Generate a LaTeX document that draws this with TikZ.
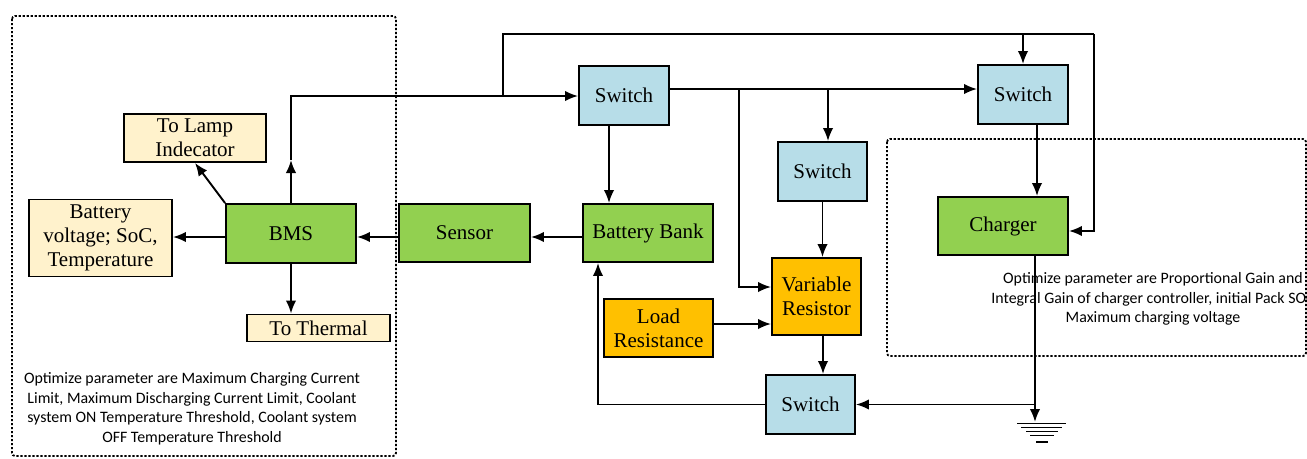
\documentclass[tikz,border=0pt]{standalone}
\usepackage{fontspec}
\setmainfont{Liberation Serif}
\newfontfamily\boxfont{Liberation Serif}
\newfontfamily\notefont{Carlito}
\usetikzlibrary{arrows.meta,calc}

\definecolor{bgreen}{HTML}{92D050}
\definecolor{bblue}{HTML}{B7DDE8}
\definecolor{borange}{HTML}{FFC000}
\definecolor{bcream}{HTML}{FFF2CC}

\tikzset{
  blk/.style={draw=black, line width=1.9pt, align=center, inner sep=0pt,
    font=\boxfont\fontsize{21}{24}\selectfont},
  greenbox/.style={blk, fill=bgreen},
  bluebox/.style={blk, fill=bblue},
  orangebox/.style={blk, fill=borange},
  creambox/.style={blk, fill=bcream},
  arr/.style={line width=1.9pt, -{Latex[length=13pt,width=10.5pt]}},
  wire/.style={line width=1.9pt},
  dotbox/.style={line width=1.8pt, dash pattern=on 2.2pt off 1.8pt, rounded corners=3pt},
  note/.style={align=center, font=\notefont\fontsize{15.9}{19.5}\selectfont}
}

\begin{document}
\begin{tikzpicture}[x=1pt,y=-1pt]
\useasboundingbox (0,0) rectangle (1307,458);

% dotted group frames
\draw[dotbox] (12,16) rectangle (396,456);
\draw[dotbox] (887,139) rectangle (1306,356);

% blocks
\node[creambox, minimum width=142pt, minimum height=48pt] (lamp) at (195,138) {To Lamp\\Indecator};
\node[creambox, minimum width=143pt, minimum height=77pt] (battv) at (100.5,238) {Battery\\voltage; SoC,\\Temperature};
\node[greenbox, minimum width=130pt, minimum height=59pt] (bms) at (291,233.5) {BMS};
\node[creambox, minimum width=143pt, minimum height=27pt] (thermal) at (318.5,328) {To Thermal};
\node[greenbox, minimum width=131pt, minimum height=58pt] (sensor) at (464.5,233) {Sensor};
\node[greenbox, minimum width=130pt, minimum height=58pt] (bb) at (648,233) {Battery Bank};
\node[bluebox, minimum width=90pt, minimum height=59pt] (sw1) at (624,95.5) {Switch};
\node[bluebox, minimum width=89pt, minimum height=59pt] (swm) at (822.5,171.5) {Switch};
\node[bluebox, minimum width=90pt, minimum height=59pt] (sw2) at (1023,94.5) {Switch};
\node[greenbox, minimum width=130pt, minimum height=58pt] (charger) at (1003,226) {Charger};
\node[orangebox, minimum width=89pt, minimum height=77pt] (vr) at (816.5,296.5) {Variable\\Resistor};
\node[orangebox, minimum width=109pt, minimum height=58pt] (load) at (658.5,328) {Load\\Resistance};
\node[bluebox, minimum width=89pt, minimum height=59pt] (swb) at (810.5,404.5) {Switch};

% notes
\node[note] (noteL) at (192,409) {Optimize parameter are Maximum Charging Current\\Limit, Maximum Discharging Current Limit, Coolant\\system ON Temperature Threshold, Coolant system\\OFF Temperature Threshold};
\node[note] (noteR) at (1153,299) {Optimize parameter are Proportional Gain and\\Integral Gain of charger controller, initial Pack SOC\\Maximum charging voltage};

% helper points
\coordinate (upmid) at (291,160);
\coordinate (j1) at (291,96);
\coordinate (j2) at (503,96);
\coordinate (topL) at (503,34);
\coordinate (topR) at (1094,34);
\coordinate (cR) at (1094,231);
\coordinate (b1) at (739,89);
\coordinate (b2) at (828,89);
\coordinate (gnd) at (1035,422);
\coordinate (j3) at (1035,404.5);

% BMS outputs
\draw[arr] (bms.north west) -- (lamp.south);
\draw[arr] ([yshift=-3.5pt]bms.west) -- ([yshift=-3.5pt]bms.west -| battv.east);
\draw[arr] (bms.south) -- (bms.south |- thermal.north);
\draw[arr] (bms.north) -- (upmid);
\draw[arr] (upmid) -- (j1) -- (j1 -| sw1.west);

% sensing chain
\draw[arr] ([yshift=-4pt]sensor.west) -- ([yshift=-4pt]sensor.west -| bms.east);
\draw[arr] ([yshift=-4pt]bb.west) -- ([yshift=-4pt]bb.west -| sensor.east);

% top loop to the charger switch and charger
\draw[wire] (j2) -- (topL) -- (topR);
\draw[arr] (topR) -- (cR) -- (cR -| charger.east);
\draw[arr] (sw2.north |- topR) -- (sw2.north);

% first switch outputs
\draw[arr] ([yshift=6.5pt]sw1.east) -- ([yshift=6.5pt]sw1.east -| sw2.west);
\draw[arr] (b1) |- ([yshift=9.5pt]vr.west);
\draw[arr] (b2) -- (b2 |- swm.north);
\draw[arr] ([xshift=-15pt]sw1.south) -- ([xshift=-15pt]sw1.south |- bb.north);

% load path
\draw[arr] (swm.south) -- (swm.south |- vr.north);
\draw[arr] ([yshift=4pt]load.east) -- ([yshift=4pt]load.east -| vr.west);
\draw[arr] ([xshift=6.5pt]vr.south) -- ([xshift=6.5pt]vr.south |- swb.north);
\draw[arr] (swb.west) -| ([xshift=-50pt]bb.south);

% charger to ground, return path
\draw[arr] ([xshift=14pt]sw2.south) -- ([xshift=14pt]sw2.south |- charger.north);
\draw[arr] ([xshift=32pt]charger.south) -- (gnd);
\draw[arr] (j3) -- (j3 -| swb.east);

% ground symbol
\draw[line width=1.8pt] (1017,423.5) -- (1066,423.5)
  (1021,427.5) -- (1062,427.5)
  (1026,431.5) -- (1058,431.5)
  (1030,435.5) -- (1054,435.5)
  (1036,442) -- (1048,442);
\end{tikzpicture}
\end{document}
